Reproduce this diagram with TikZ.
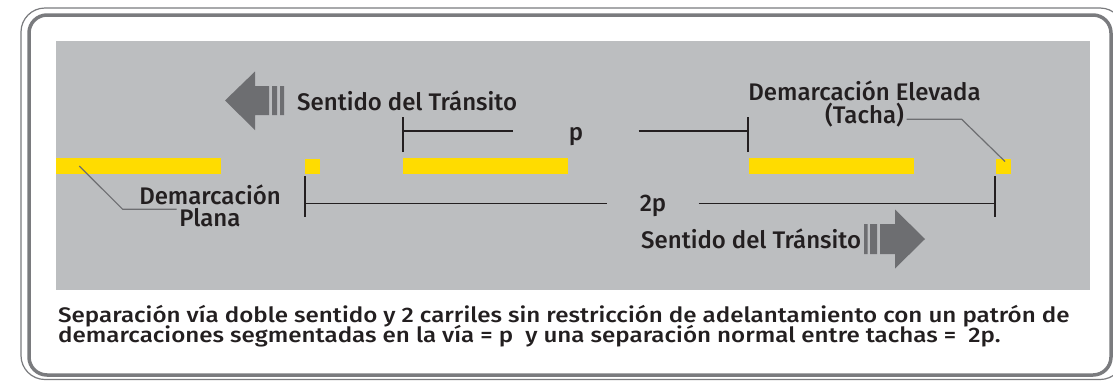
\documentclass[tikz,border=0pt]{standalone}
\usepackage{fontspec}
\setmainfont{Fira Sans}[BoldFont={Fira Sans Medium}]
\newfontfamily\capfont{Fira Sans Medium}[FakeStretch=1.15]
\usetikzlibrary{calc}

% fixed line pitch in the two-line labels
\newcommand\tightpitch{\lineskiplimit=-100pt\relax}

\definecolor{roadgray}{HTML}{BCBEC0}
\definecolor{arrowgray}{HTML}{6D6E71}
\definecolor{framegray}{HTML}{7A7B7E}
\definecolor{inkblack}{HTML}{231F20}
\definecolor{paintyellow}{HTML}{FFDC00}

\tikzset{
  stripe/.style={fill=paintyellow, anchor=north west, inner sep=0pt, outer sep=0pt,
    minimum width=165pt, minimum height=16.5pt},
  tacha/.style={stripe, minimum width=15pt, minimum height=15pt},
  lbl/.style={inner sep=0pt, text=inkblack,
    font=\fontsize{24}{22.5}\selectfont\bfseries\tightpitch},
  dimlabel/.style={lbl, inner sep=0pt},
  dimline/.style={inkblack, line width=1.3pt},
  leader/.style={arrowgray, line width=1.2pt},
}

\begin{document}
\begin{tikzpicture}[x=1pt, y=-1pt, line join=round]
  \useasboundingbox (0,0) rectangle (1113,381);
  \fill[white] (0,0) rectangle (1113,381);

  % double frame, the right side runs off the page
  \draw[framegray, line width=1.2pt, rounded corners=24pt] (21,8) rectangle (1124,379.5);
  \draw[framegray, line width=3.5pt, rounded corners=18pt] (29,15) rectangle (1111,375);

  % the road
  \fill[roadgray] (56,41) rectangle (1090,290);

  % painted stripes and raised markers
  \node[stripe] (plana1) at (56,157.5) {};
  \node[tacha] (tacha1) at (305,159) {};
  \node[stripe] (seg1) at (403,157.5) {};
  \node[stripe] (seg2) at (749,157.5) {};
  \node[tacha] (tacha2) at (996,159) {};

  % direction of traffic
  \fill[arrowgray] (225,100.5) -- (255,71.5) -- (255,86) -- (269,86) -- (269,115)
    -- (255,115) -- (255,130) -- cycle;
  \fill[arrowgray] (272,86) rectangle (277,115) (280,86) rectangle (284,115);
  \node[lbl, anchor=base west] (sentidoA) at (297,110) {Sentido del Tránsito};

  \fill[arrowgray] (925,239) -- (895,209.5) -- (895,224) -- (880,224) -- (880,254)
    -- (895,254) -- (895,268.5) -- cycle;
  \fill[arrowgray] (870,224) rectangle (877,254) (864,224) rectangle (867.5,254);
  \node[lbl, anchor=base west] (sentidoB) at (641,248) {Sentido del Tránsito};

  % pattern length p
  \coordinate (pL) at ($(seg1.north west)+(0,-26.5)$);
  \coordinate (pR) at ($(seg2.north west)+(0,-26.5)$);
  \node[dimlabel, anchor=base, minimum width=125pt] (plbl) at ($(pL)!0.5!(pR)+(0,9)$) {p};
  \draw[dimline] ($(seg1.north west)+(0,-5.5)$) -- ++(0,-35);
  \draw[dimline] ($(seg2.north west)+(-1,-5.5)$) -- ++(0,-35);
  \draw[dimline] (pL) -- (plbl.west |- pL);
  \draw[dimline] (plbl.east |- pR) -- ($(pR)+(-1,0)$);

  % spacing between markers 2p
  \coordinate (qL) at ($(tacha1.south west)+(0,29.5)$);
  \coordinate (qR) at ($(tacha2.south west)+(-1,29.5)$);
  \node[dimlabel, anchor=base, minimum width=91pt] (qlbl) at ($(qL)!0.5!(qR)+(3,8)$) {2p};
  \draw[dimline] ($(tacha1.south west)+(0,2)$) -- ++(0,41);
  \draw[dimline] ($(tacha2.south west)+(-1,2)$) -- ++(0,41);
  \draw[dimline] (qL) -- (qlbl.west |- qL);
  \draw[dimline] (qlbl.east |- qR) -- (qR);

  % callouts (base sits on the last line)
  \node[lbl, align=center, anchor=base] (elevada) at (864.5,123) {Demarcación Elevada\\(Tacha)};
  \coordinate (elevadaEnd) at (906.7,119.3);
  \draw[leader] (elevadaEnd) -- ++(55,0) -- ($(tacha2.north)+(1.5,2.5)$);

  \node[lbl, align=center, anchor=base] (plana) at (210,226.7) {Demarcación\\Plana};
  \coordinate (planaEnd) at (176.7,209.3);
  \draw[leader] (79.3,166) -- (122.7,209.3) -- (planaEnd);

  % caption
  \node[lbl, font=\fontsize{21}{20}\capfont\tightpitch, align=left, anchor=base west] (caption)
    at (58,342) {Separación vía doble sentido y 2 carriles sin restricción de adelantamiento con un patrón de\\
    demarcaciones segmentadas en la vía = p\ \ y una separación normal entre tachas =\ \ 2p.};
\end{tikzpicture}
\end{document}
